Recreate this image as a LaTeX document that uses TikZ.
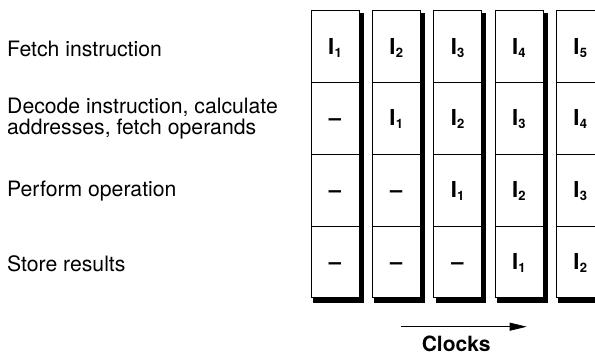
\documentclass[tikz,border=0pt]{standalone}
\usepackage{fontspec}
\setmainfont{TeX Gyre Heros}
\usetikzlibrary{arrows.meta}
\newcommand\Ins[1]{I\kern0.3pt\raisebox{-3pt}{\fontsize{13}{13}\selectfont #1}}
\begin{document}
\begin{tikzpicture}[x=1pt,y=1pt,
  lbl/.style={anchor=base west, inner sep=0pt, font=\fontsize{21.2}{21.7}\selectfont, align=left},
  colbox/.style={draw=black, line width=0.8pt, fill=white, minimum width=48pt, minimum height=287pt, inner sep=0pt},
  shadowfill/.style={fill=black},
  cell/.style={draw=black, line width=0.8pt, minimum width=48pt, minimum height=71.75pt, inner sep=0pt,
    text height=15pt, text depth=0pt, font=\fontsize{22}{22}\selectfont\bfseries},
  clk/.style={font=\fontsize{21}{21}\selectfont\bfseries, anchor=base, inner sep=0pt},
]
\useasboundingbox (0,0) rectangle (595,354);
\clip (0,0) rectangle (595,354);

% labels
\node[lbl] (l1) at (7,297.3) {Fetch instruction};
\node[lbl] (l2) at (7,219) {Decode instruction, calculate\\addresses, fetch operands};
\node[lbl] (l3) at (7,157.3) {Perform operation};
\node[lbl] (l4) at (7,83) {Store results};

% column shadows
\foreach \c in {0,...,4} {
  \fill[shadowfill] (311+61.3*\c+2,56.3-5) rectangle (311+61.3*\c+48+4.8,343.3-2);
}
% columns
\foreach \c in {0,...,4} {
  \node[colbox] (col-\c) at (335+61.3*\c,199.8) {};
}
\foreach \c in {0,...,4} {
  \foreach \r in {0,...,3} {
    \pgfmathtruncatemacro{\k}{\c-\r+1}
    \ifnum\k>0
      \node[cell] (cell-\r-\c) at (335+61.3*\c,307.4-71.75*\r) {\Ins{\k}};
    \else
      \node[cell] (cell-\r-\c) at (335+61.3*\c,307.4-71.75*\r) {--};
    \fi
  }
}

% clocks arrow
\coordinate (clkS) at (401,27.3);
\coordinate (clkE) at (526.7,27.3);
\draw[line width=0.7pt, -{Triangle[length=17pt,width=8pt]}] (clkS) -- (clkE);
\node[clk] (clocks) at (456.2,3) {Clocks};
\end{tikzpicture}
\end{document}
